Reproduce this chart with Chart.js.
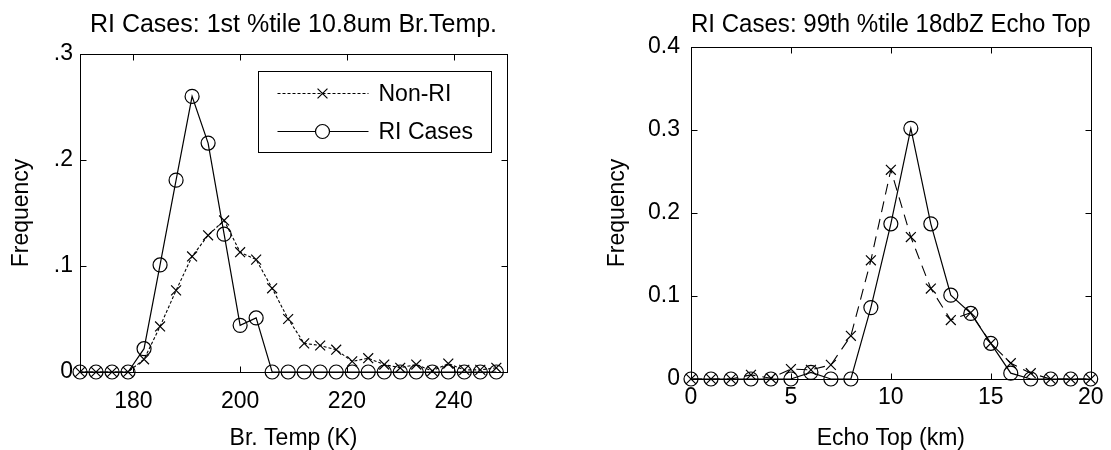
<!DOCTYPE html>
<html>
<head>
<meta charset="utf-8">
<title>RI Cases</title>
<script src="https://cdn.jsdelivr.net/npm/chart.js@4.4.0/dist/chart.umd.min.js"></script>
<style>
  html, body { margin: 0; padding: 0; background: #fff; }
  body { width: 1111px; height: 450px; position: relative; overflow: hidden; }
  #grafico-temp { position: absolute; left: 0; top: 0; }
  #grafico-eco { position: absolute; left: 560px; top: 0; }
</style>
</head>
<body>
<canvas id="grafico-temp" width="560" height="450"></canvas>
<canvas id="grafico-eco" width="551" height="450"></canvas>
<script>
// left panel: 1st percentile 10.8um brightness temperature
const tempBins = [170, 173, 176, 179, 182, 185, 188, 191, 194, 197, 200, 203, 206, 209,
  212, 215, 218, 221, 224, 227, 230, 233, 236, 239, 242, 245, 248];
const tempNonRI = [0, 0, 0, 0, 0.012, 0.043, 0.077, 0.109, 0.129, 0.143, 0.113, 0.106, 0.079, 0.050,
  0.027, 0.025, 0.021, 0.010, 0.013, 0.007, 0.004, 0.007, 0.001, 0.008, 0.002, 0.002, 0.004];
const tempRI = [0, 0, 0, 0, 0.022, 0.101, 0.181, 0.260, 0.216, 0.130, 0.044, 0.051, 0, 0,
  0, 0, 0, 0, 0, 0, 0, 0, 0, 0, 0, 0, 0];
const tempTicks = [180, 200, 220, 240];
const tempFreqTicks = [0, 0.1, 0.2, 0.3];
const tempFreqLabels = ['0', '.1', '.2', '.3'];

// right panel: 99th percentile 18dbZ echo top
const echoBins = [0, 1, 2, 3, 4, 5, 6, 7, 8, 9, 10, 11, 12, 13, 14, 15, 16, 17, 18, 19, 20];
const echoNonRI = [0, 0, 0, 0.005, 0.001, 0.012, 0.011, 0.017, 0.052, 0.143, 0.252,
  0.171, 0.109, 0.071, 0.080, 0.043, 0.019, 0.007, 0, 0, 0];
const echoRI = [0, 0, 0, 0, 0, 0, 0.008, 0, 0, 0.086, 0.187,
  0.302, 0.187, 0.101, 0.079, 0.043, 0.007, 0, 0, 0, 0];
const echoTicks = [0, 5, 10, 15, 20];
const echoFreqTicks = [0, 0.1, 0.2, 0.3, 0.4];
const echoFreqLabels = ['0', '0.1', '0.2', '0.3', '0.4'];

const seriesNames = ['Non-RI', 'RI Cases'];

const FONT = '"Liberation Sans", Arial, Helvetica, sans-serif';
const fonte = size => ({ family: FONT, size: size, lineHeight: 1 });

// box around the plot with inward tick marks
const molduraPlugin = {
  id: 'moldura',
  afterDatasetsDraw(chart) {
    const { ctx, chartArea: a, scales: { x, y } } = chart;
    const L = Math.round(a.left) + 0.5, R = Math.round(a.right) + 0.5;
    const T = Math.round(a.top) + 0.5, B = Math.round(a.bottom) + 0.5;
    ctx.save();
    ctx.strokeStyle = '#000';
    ctx.lineWidth = 1;
    ctx.setLineDash([]);
    ctx.strokeRect(L, T, R - L, B - T);
    ctx.beginPath();
    x.ticks.forEach(t => {
      const px = Math.round(x.getPixelForValue(t.value)) + 0.5;
      ctx.moveTo(px, B); ctx.lineTo(px, B - 6);
      ctx.moveTo(px, T); ctx.lineTo(px, T + 6);
    });
    y.ticks.forEach(t => {
      const py = Math.round(y.getPixelForValue(t.value)) + 0.5;
      ctx.moveTo(L, py); ctx.lineTo(L + 6, py);
      ctx.moveTo(R, py); ctx.lineTo(R - 6, py);
    });
    ctx.stroke();
    ctx.restore();
  }
};

// MATLAB-like legend box (line sample + marker)
const legendaPlugin = {
  id: 'legenda',
  afterDraw(chart) {
    const { ctx, chartArea: a } = chart;
    const bx = Math.round(a.right) - 249 + 0.5, by = Math.round(a.top) + 17 + 0.5;
    const bw = 233, bh = 81;
    ctx.save();
    ctx.fillStyle = '#fff';
    ctx.fillRect(bx, by, bw, bh);
    ctx.strokeStyle = '#000';
    ctx.lineWidth = 1;
    ctx.setLineDash([]);
    ctx.strokeRect(bx, by, bw, bh);
    chart.data.datasets.forEach((ds, i) => {
      const yy = by + 22 + i * 38;
      const x0 = bx + 19, x1 = bx + 110, xm = bx + 64;
      ctx.lineWidth = ds.borderWidth;
      ctx.setLineDash(ds.borderDash || []);
      ctx.beginPath();
      ctx.moveTo(x0, yy); ctx.lineTo(x1, yy);
      ctx.stroke();
      ctx.setLineDash([]);
      ctx.lineWidth = ds.pointBorderWidth;
      ctx.beginPath();
      if (ds.pointStyle === 'circle') {
        ctx.fillStyle = '#fff';
        ctx.arc(xm, yy, ds.pointRadius, 0, Math.PI * 2);
        ctx.fill();
      } else {
        const d = ds.pointRadius * Math.SQRT1_2;
        ctx.moveTo(xm - d, yy - d); ctx.lineTo(xm + d, yy + d);
        ctx.moveTo(xm - d, yy + d); ctx.lineTo(xm + d, yy - d);
      }
      ctx.stroke();
      ctx.fillStyle = '#000';
      ctx.font = '23px ' + FONT;
      ctx.textAlign = 'left';
      ctx.textBaseline = 'middle';
      ctx.fillText(ds.label, bx + 120, yy + 1);
    });
    ctx.restore();
  }
};

function montarGrafico(canvasId, cfg) {
  const pontos = vals => cfg.bins.map((b, i) => ({ x: b, y: vals[i] }));
  return new Chart(document.getElementById(canvasId), {
    type: 'line',
    data: {
      datasets: [
        {
          label: seriesNames[0],
          data: pontos(cfg.nonRI),
          borderColor: '#000',
          borderWidth: 1.1,
          borderDash: cfg.dash,
          pointStyle: 'crossRot',
          pointRadius: 7,
          pointBorderColor: '#000',
          pointBorderWidth: 1.2,
          pointBackgroundColor: 'rgba(0,0,0,0)',
          fill: false,
          tension: 0,
          clip: false
        },
        {
          label: seriesNames[1],
          data: pontos(cfg.ri),
          borderColor: '#000',
          borderWidth: 1.2,
          pointStyle: 'circle',
          pointRadius: 7,
          pointBorderColor: '#000',
          pointBorderWidth: 1.2,
          pointBackgroundColor: 'rgba(0,0,0,0)',
          fill: false,
          tension: 0,
          clip: false
        }
      ]
    },
    options: {
      responsive: false,
      animation: false,
      events: [],
      layout: { padding: { left: 0, right: cfg.padRight, top: 0, bottom: 0 } },
      plugins: {
        legend: { display: false },
        tooltip: { enabled: false },
        title: {
          display: true,
          text: cfg.title,
          fullSize: false,
          color: '#000',
          font: { family: FONT, size: 25, weight: 'normal', lineHeight: 1 },
          padding: { top: 12.5, bottom: cfg.titleGap }
        }
      },
      scales: {
        x: {
          type: 'linear',
          min: cfg.xMin,
          max: cfg.xMax,
          grid: { display: false, drawTicks: false },
          border: { display: false },
          afterBuildTicks: s => { s.ticks = cfg.xTicks.map(v => ({ value: v })); },
          afterFit: s => { s.height = cfg.xHeight; },
          ticks: { color: '#000', font: fonte(23), padding: cfg.xTickPad, maxRotation: 0, autoSkip: false },
          title: { display: true, text: cfg.xTitle, color: '#000', font: fonte(23), padding: { top: cfg.xTitlePad, bottom: 0 } }
        },
        y: {
          type: 'linear',
          min: 0,
          max: cfg.yMax,
          grid: { display: false, drawTicks: false },
          border: { display: false },
          afterBuildTicks: s => { s.ticks = cfg.yTicks.map(v => ({ value: v })); },
          afterFit: s => { s.width = cfg.yWidth; },
          ticks: {
            color: '#000', font: fonte(23), padding: cfg.yTickPad, autoSkip: false,
            callback: (v, i) => cfg.yLabels[i]
          },
          title: { display: true, text: 'Frequency', color: '#000', font: fonte(23), padding: { top: cfg.yTitlePad, bottom: 0 } }
        }
      }
    },
    plugins: cfg.legenda ? [molduraPlugin, legendaPlugin] : [molduraPlugin]
  });
}

montarGrafico('grafico-temp', {
  bins: tempBins, nonRI: tempNonRI, ri: tempRI, dash: [3, 2],
  title: 'RI Cases: 1st %tile 10.8um Br.Temp.', titleGap: 16.5,
  xMin: 170, xMax: 250, xTicks: tempTicks, xTitle: 'Br. Temp (K)',
  xHeight: 78, xTickPad: 18.5, xTitlePad: 2.5,
  yMax: 0.3, yTicks: tempFreqTicks, yLabels: tempFreqLabels,
  yWidth: 80, yTickPad: 7, yTitlePad: 10.5,
  padRight: 53, legenda: true
});

montarGrafico('grafico-eco', {
  bins: echoBins, nonRI: echoNonRI, ri: echoRI, dash: [11, 7],
  title: 'RI Cases: 99th %tile 18dbZ Echo Top', titleGap: 9.5,
  xMin: 0, xMax: 20, xTicks: echoTicks, xTitle: 'Echo Top (km)',
  xHeight: 71, xTickPad: 7.5, xTitlePad: 10.5,
  yMax: 0.4, yTicks: echoFreqTicks, yLabels: echoFreqLabels,
  yWidth: 131, yTickPad: 11, yTitlePad: 46.5,
  padRight: 16, legenda: false
});
</script>
</body>
</html>
